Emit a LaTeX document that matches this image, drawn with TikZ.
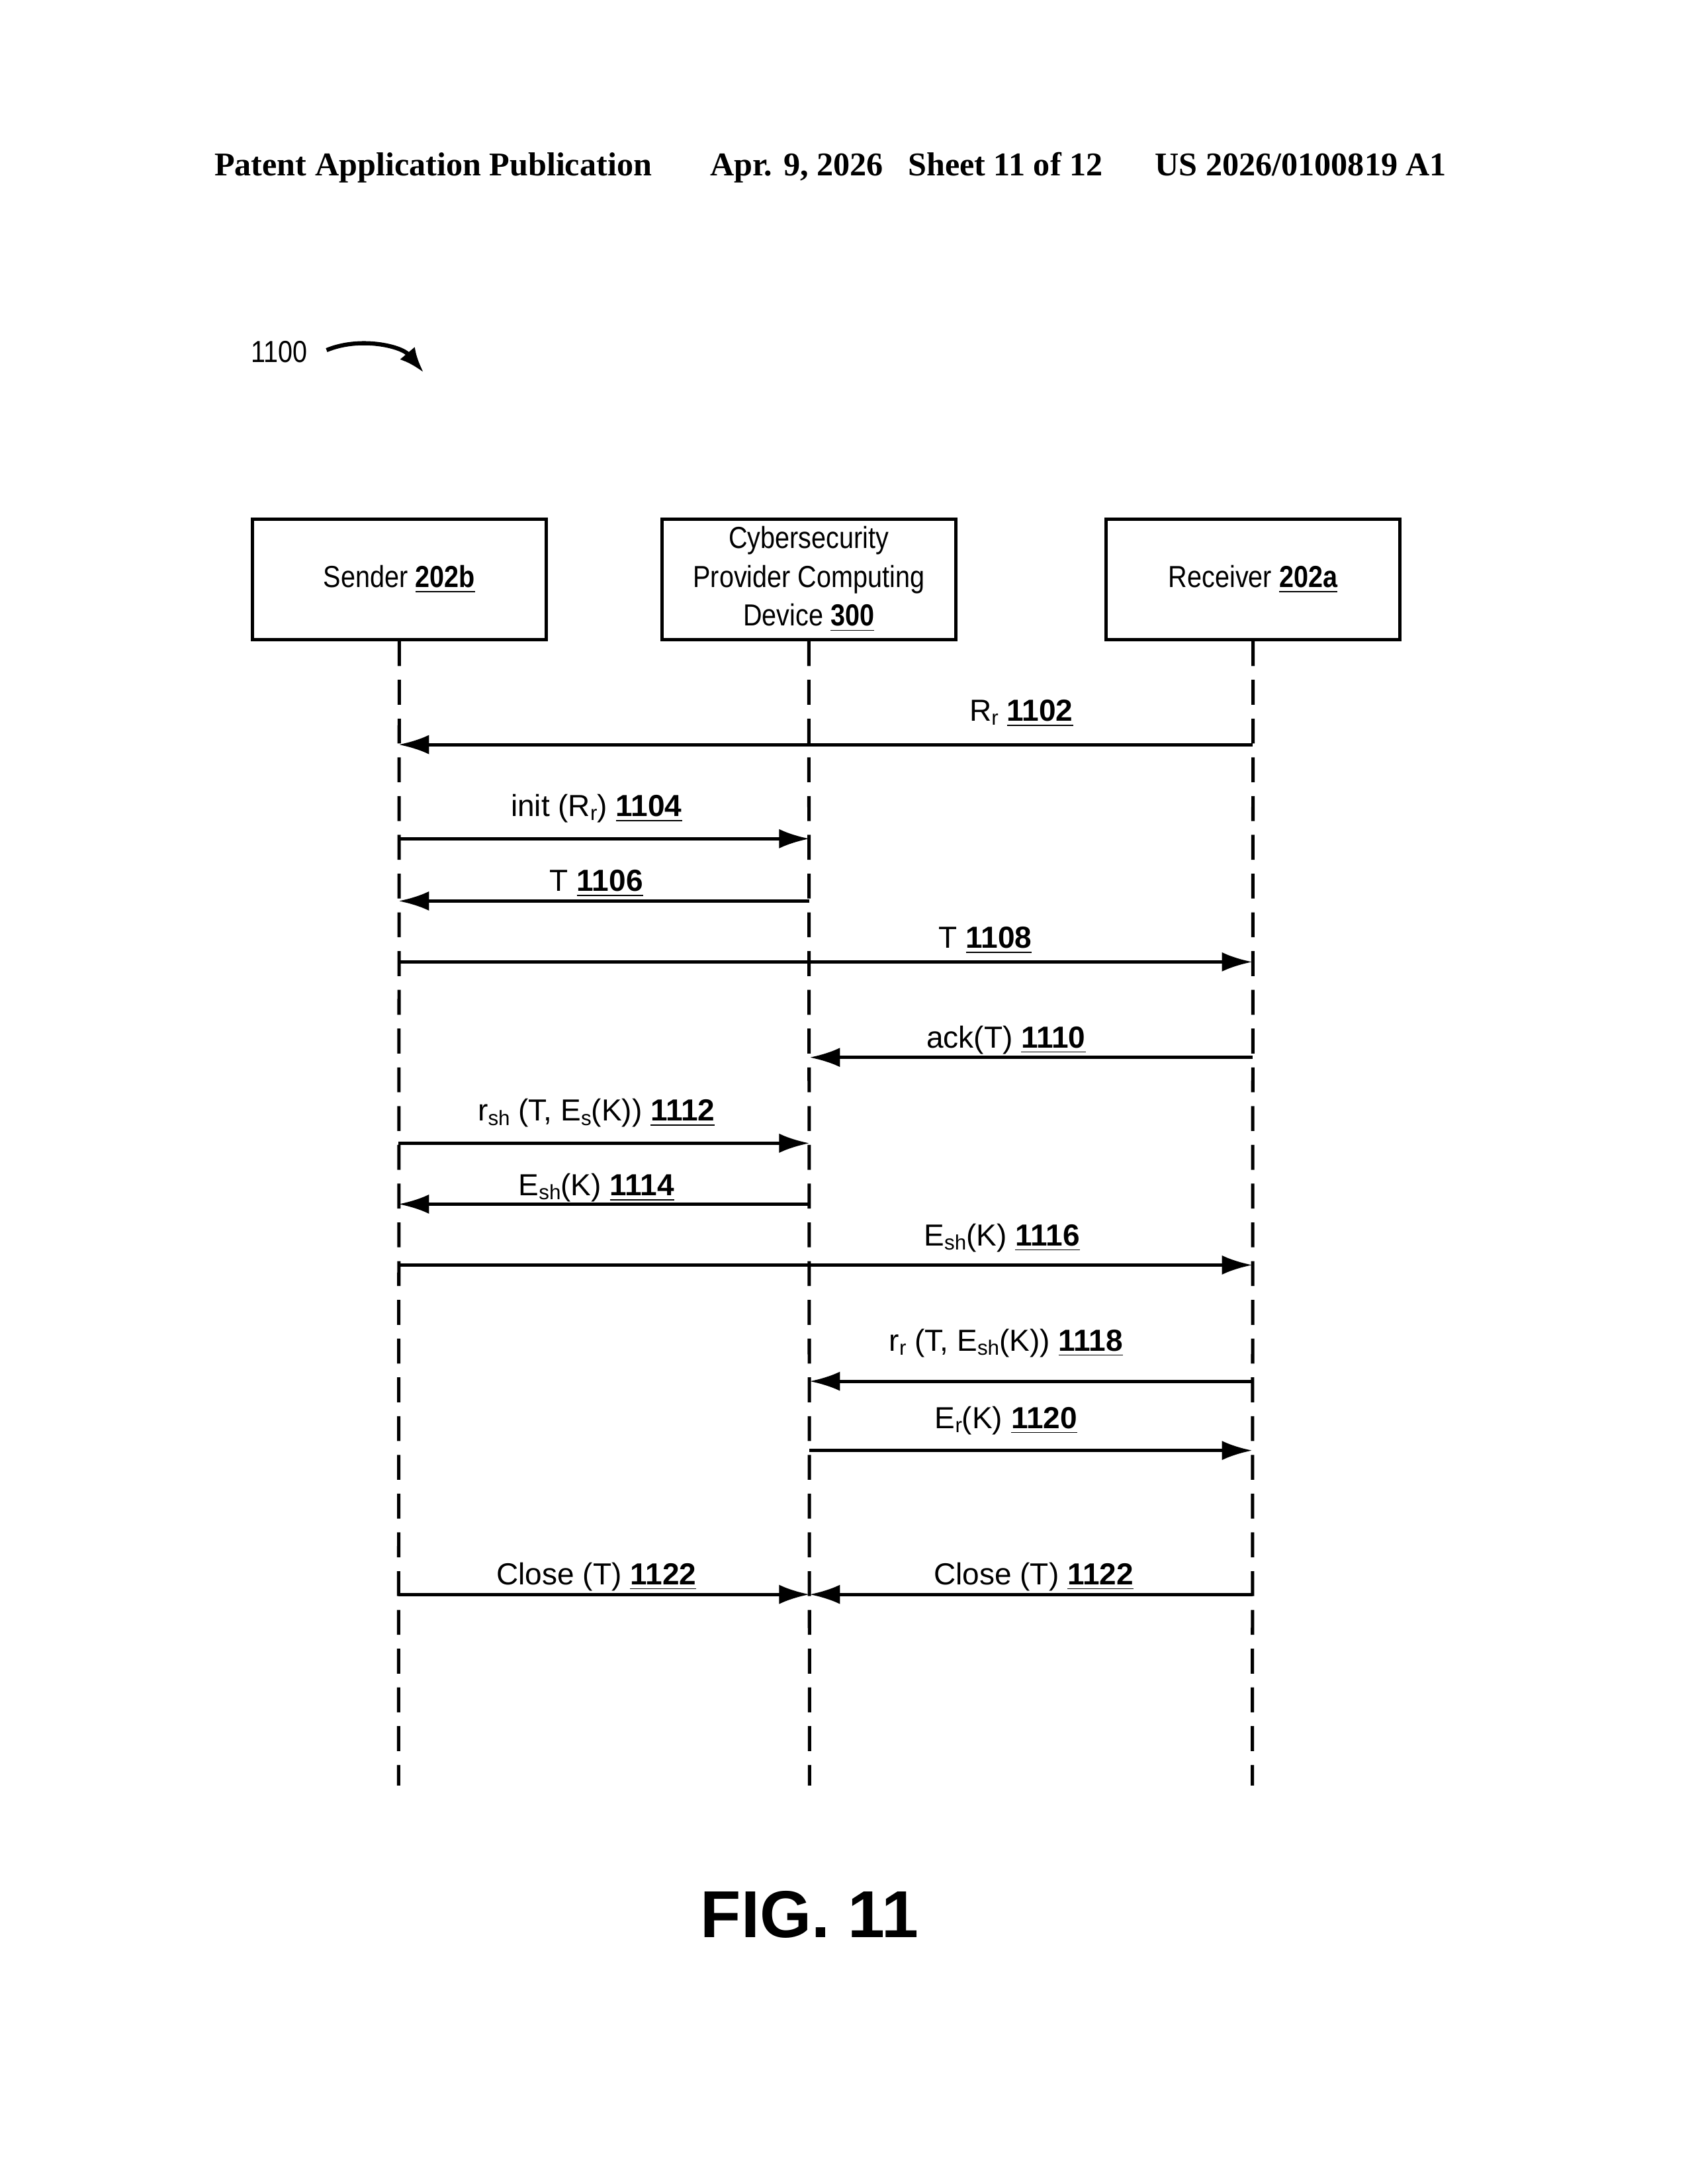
\documentclass[tikz,border=0pt]{standalone}
\usepackage{fontspec}
\setmainfont{Liberation Sans}
\newfontfamily\serifb{Liberation Serif}
\newfontfamily\narrow[FakeStretch=0.86]{Liberation Sans}
\usetikzlibrary{arrows.meta}
\newcommand\mysub[1]{\raisebox{-0.25ex}{\fontsize{7.5}{8}\selectfont #1}}
\newcommand\refn[1]{\underline{\textbf{#1}}}
\begin{document}
\begin{tikzpicture}[x=0.5pt,y=-0.5pt,
  box/.style={draw,line width=1.2pt,minimum width=106pt,minimum height=43.5pt,align=center,font=\narrow\fontsize{11}{14}\selectfont,inner sep=1pt},
  life/.style={line width=1.2pt,dash pattern=on 9pt off 5pt},
  msg/.style={line width=1.2pt,-{Latex[length=11pt,width=7pt]}},
  lab/.style={font=\fontsize{11}{13}\selectfont,anchor=base,inner sep=0pt},
  hdr/.style={font=\serifb\bfseries\fontsize{12}{14}\selectfont,anchor=base,inner sep=0pt}]
\useasboundingbox (0,0) rectangle (1224,1578);
\node[hdr] (h1) at (313,127) {Patent Application Publication};
\node[hdr] (h2) at (655,127) {Apr. 9, 2026\hspace{9pt}Sheet 11 of 12};
\node[hdr] (h3) at (940,127) {US 2026/0100819 A1};
\node[font=\narrow\fontsize{11}{13}\selectfont,anchor=base] (fig) at (202,262) {1100};
\coordinate (fa) at (236,253);
\coordinate (fb) at (306,269);
\draw[line width=1.5pt,-{Latex[length=9pt,width=7pt]}] (fa) .. controls (260,243) and (290,250) .. (fb);

\node[box] (S) at (288.5,418.5) {Sender \refn{202b}};
\node[box] (C) at (584.5,418.5) {Cybersecurity\\Provider Computing\\Device \refn{300}};
\node[box] (R) at (905.5,418.5) {Receiver \refn{202a}};
\coordinate (Se) at (288,1290);
\coordinate (Ce) at (585,1290);
\coordinate (Re) at (905,1290);
\draw[life] (S.south) -- (Se);
\draw[life] (C.south) -- (Ce);
\draw[life] (R.south) -- (Re);

\foreach \n/\y in {a/538,b/606,c/651,d/695,e/764,f/826,g/870,h/914,i/998,j/1048,k/1152}{
  \coordinate (S\n) at (288,\y);
  \coordinate (C\n) at (585,\y);
  \coordinate (R\n) at (905,\y);
}
\draw[msg] (Ra) -- (Sa); \node[lab] (l1) at (738,521) {R\mysub{r} \refn{1102}};
\draw[msg] (Sb) -- (Cb); \node[lab] (l2) at (431,590) {init (R\mysub{r}) \refn{1104}};
\draw[msg] (Cc) -- (Sc); \node[lab] (l3) at (431,644) {T \refn{1106}};
\draw[msg] (Sd) -- (Rd); \node[lab] (l4) at (712,685) {T \refn{1108}};
\draw[msg] (Re) -- (Ce); \node[lab] (l5) at (727,757) {ack(T) \refn{1110}};
\draw[msg] (Sf) -- (Cf); \node[lab] (l6) at (431,810) {r\mysub{sh} (T, E\mysub{s}(K)) \refn{1112}};
\draw[msg] (Cg) -- (Sg); \node[lab] (l7) at (431,864) {E\mysub{sh}(K) \refn{1114}};
\draw[msg] (Sh) -- (Rh); \node[lab] (l8) at (724,900) {E\mysub{sh}(K) \refn{1116}};
\draw[msg] (Ri) -- (Ci); \node[lab] (l9) at (727,976) {r\mysub{r} (T, E\mysub{sh}(K)) \refn{1118}};
\draw[msg] (Cj) -- (Rj); \node[lab] (l10) at (727,1032) {E\mysub{r}(K) \refn{1120}};
\draw[msg] (Sk) -- (Ck); \node[lab] (l11) at (431,1145) {Close (T) \refn{1122}};
\draw[msg] (Rk) -- (Ck); \node[lab] (l12) at (747,1145) {Close (T) \refn{1122}};

\node[font=\bfseries\fontsize{24}{28}\selectfont,anchor=base] (F) at (585,1400) {FIG. 11};
\end{tikzpicture}
\end{document}
